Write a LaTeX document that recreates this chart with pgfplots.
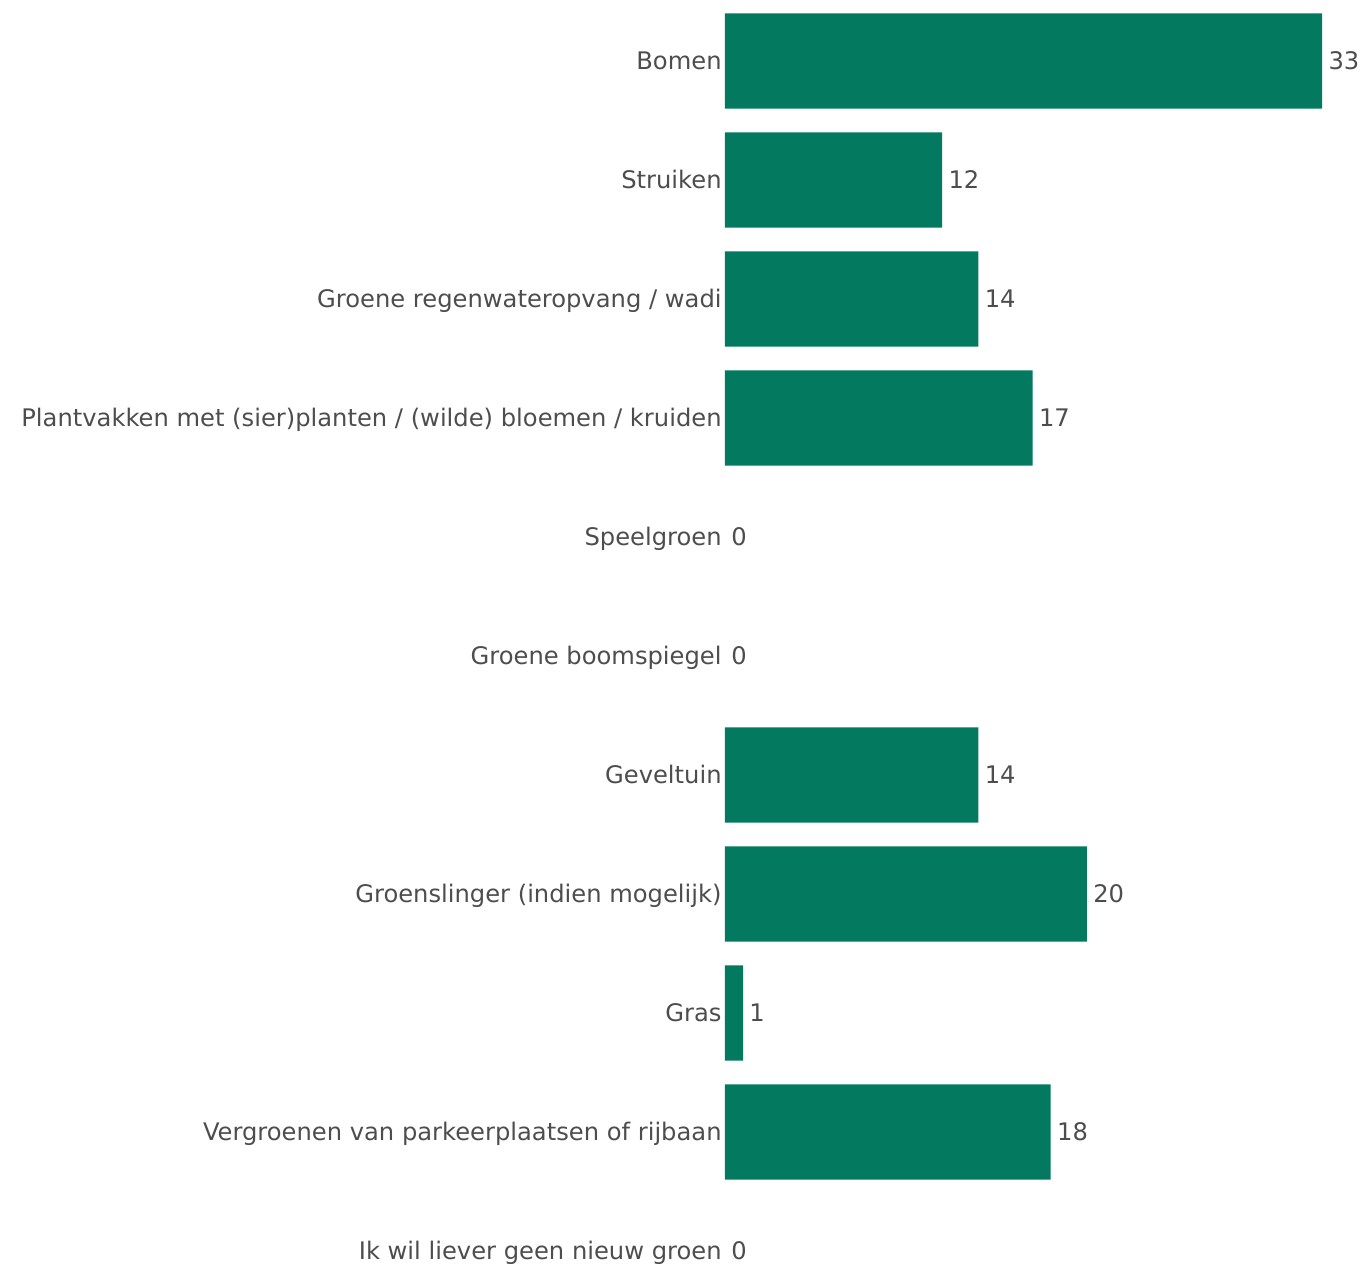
\documentclass[border=0pt]{standalone}
\usepackage{pgfplots}
\pgfplotsset{compat=1.18}
\usepackage{fontspec}
\setmainfont{DejaVu Sans}
\definecolor{barGreen}{HTML}{037A5F}
\definecolor{txtGray}{HTML}{4D4D4D}

\begin{document}
\begin{tikzpicture}
  \begin{axis}[
      scale only axis,
      width=318.5pt, height=634pt,
      at={(362.5pt,0pt)}, anchor=south west,
      xbar,
      bar width=0.8,
      bar shift=0pt,
      xmin=0, xmax=35.2,
      ymin=-0.513, ymax=10.143,
      y dir=reverse,
      axis line style={draw=none},
      major tick length=0pt,
      xtick=\empty,
      ytick={0,...,10},
      yticklabels={Bomen, Struiken, Groene regenwateropvang / wadi,
        Plantvakken met (sier)planten / (wilde) bloemen / kruiden,
        Speelgroen, Groene boomspiegel, Geveltuin,
        Groenslinger (indien mogelijk), Gras,
        Vergroenen van parkeerplaatsen of rijbaan,
        Ik wil liever geen nieuw groen},
      yticklabel style={font=\fontsize{12.1}{14}\selectfont, text=txtGray,
        inner sep=1.5pt, text height=0.82em, text depth=0pt},
      nodes near coords,
      nodes near coords style={font=\fontsize{12.1}{14}\selectfont, text=txtGray,
        anchor=west, inner sep=3pt, text height=0.82em, text depth=0pt},
      /pgf/number format/assume math mode=true,
      clip=false,
    ]
    % bars with a value
    \addplot[fill=barGreen, draw=none] coordinates {
      (33,0) (12,1) (14,2) (17,3)
      (14,6) (20,7) (1,8) (18,9)
    };
    % zero answers: only the label
    \addplot[fill=none, draw=none] coordinates {
      (0,4) (0,5) (0,10)
    };
  \end{axis}
  \pgfresetboundingbox
  \useasboundingbox (0,0) rectangle (681pt,634pt);
\end{tikzpicture}
\end{document}
